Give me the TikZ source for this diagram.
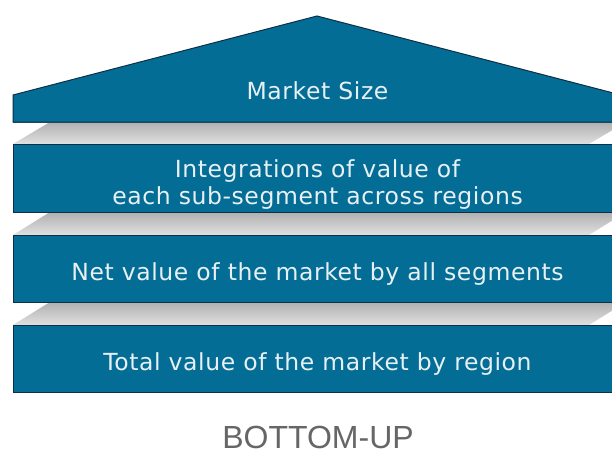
\documentclass[tikz,border=0pt]{standalone}
\usepackage{fontspec}
\setmainfont{DejaVu Sans}[LetterSpace=2.5]
\newfontfamily\labelfont{Liberation Sans}
\begin{document}
\definecolor{slab}{HTML}{036D96}
\definecolor{slabedge}{HTML}{0E2F47}
\definecolor{slabtext}{HTML}{E8F0F4}
\definecolor{captiongray}{HTML}{666666}
\begin{tikzpicture}[x=1pt,y=-1pt,
  slabfill/.style={fill=slab,draw=slabedge,line width=1pt,line join=miter},
  bevel/.style={top color=gray!62,bottom color=gray!24,draw=none},
  slablabel/.style={text=slabtext,font=\fontsize{23.5}{27}\selectfont,align=center,inner sep=0pt}]
\useasboundingbox (0,0) rectangle (612,450);
\clip (0,0) rectangle (612,450);
\fill[white] (0,0) rectangle (612,450);

% grey bevels between the slabs
\foreach \t/\b in {122/144, 212/235, 302/325}{
  \shade[bevel] (13,\b) -- (50,\t) -- (626,\t) -- (589,\b) -- cycle;
  \draw[slabedge!70,line width=1pt] (13,\t+0.8) -- (626,\t+0.8);
}

% roof
\draw[slabfill] (13,122) -- (13,95) -- (317,16) -- (621,95) -- (621,122) -- cycle;
% slabs
\draw[slabfill] (13,144) rectangle (622,212);
\draw[slabfill] (13,235) rectangle (622,302);
\draw[slabfill] (13,325) rectangle (622,392);

\node[slablabel] (roof) at (317.5,90.5) {Market Size};
\node[slablabel] (integ) at (317.5,185) {Integrations of value of\\each sub-segment across regions};
\node[slablabel] (net) at (317.5,274) {Net value of the market by all segments};
\node[slablabel] (total) at (317.5,364) {Total value of the market by region};
\node[text=captiongray,font=\labelfont\fontsize{32}{36}\selectfont,inner sep=0pt] (caption) at (318,437) {BOTTOM-UP};
\end{tikzpicture}
\end{document}
